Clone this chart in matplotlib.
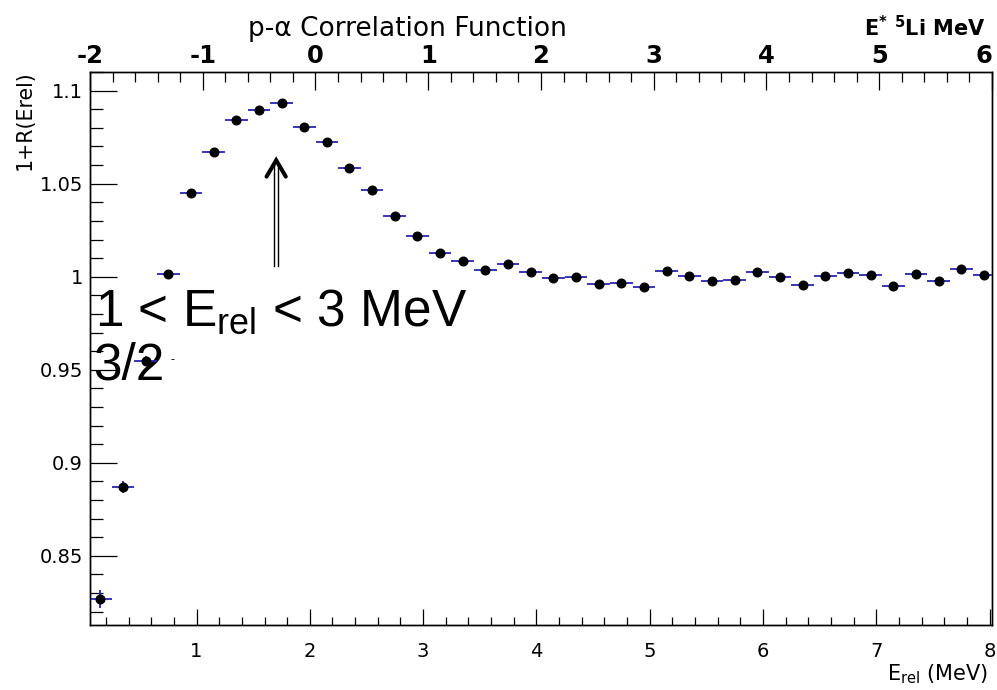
import matplotlib
matplotlib.use("Agg")
import matplotlib.pyplot as plt
from matplotlib.ticker import MultipleLocator, FormatStrFormatter
from matplotlib.lines import Line2D

# ---- data -------------------------------------------------------------
bin_center = [0.15, 0.35, 0.55, 0.75, 0.95, 1.15, 1.35, 1.55, 1.75, 1.95,
              2.15, 2.35, 2.55, 2.75, 2.95, 3.15, 3.35, 3.55, 3.75, 3.95,
              4.15, 4.35, 4.55, 4.75, 4.95, 5.15, 5.35, 5.55, 5.75, 5.95,
              6.15, 6.35, 6.55, 6.75, 6.95, 7.15, 7.35, 7.55, 7.75, 7.95]
bin_halfwidth = 0.1
ratio = [0.8268, 0.8868, 0.9549, 1.0012, 1.0450, 1.0671, 1.0842, 1.0896, 1.0934, 1.0807,
         1.0726, 1.0587, 1.0467, 1.0329, 1.0217, 1.0130, 1.0084, 1.0034, 1.0066, 1.0027,
         0.9995, 0.9998, 0.9962, 0.9964, 0.9946, 1.0030, 1.0002, 0.9975, 0.9985, 1.0027,
         1.0000, 0.9955, 1.0003, 1.0022, 1.0011, 0.9949, 1.0012, 0.9976, 1.0041, 1.0011]
ratio_err = [0.0050, 0.0033, 0.0025, 0.0020, 0.0018, 0.0017, 0.0016, 0.0016, 0.0016, 0.0016,
             0.0016, 0.0015, 0.0015, 0.0015, 0.0015, 0.0015, 0.0015, 0.0015, 0.0015, 0.0015,
             0.0015, 0.0015, 0.0015, 0.0015, 0.0015, 0.0015, 0.0015, 0.0015, 0.0015, 0.0015,
             0.0015, 0.0015, 0.0015, 0.0015, 0.0015, 0.0015, 0.0015, 0.0015, 0.0015, 0.0015]

erel_range = (0.06, 8.02)
estar_range = (-2, 6)
estar_ticks = [-2, -1, 0, 1, 2, 3, 4, 5, 6]
estar_ticklabels = ["-2", "-1", "0", "1", "2", "3", "4", "5", "6"]
ratio_range = (0.8128, 1.1102)

window_label = r"1 < E$_{\mathregular{rel}}$ < 3 MeV"
spin_label = "3/2"
arrow_x = 1.703
arrow_tail = 1.0056
arrow_tip = 1.0626

# ---- figure -------------------------------------------------------------
plt.rcParams["font.family"] = ["DejaVu Sans"]
plt.rcParams["axes.unicode_minus"] = False
plt.rcParams["mathtext.default"] = "regular"

fig = plt.figure(figsize=(9.97, 6.90), dpi=100)
ax = fig.add_axes([90 / 997, 1 - 625 / 690, (992 - 90) / 997, (625 - 71.7) / 690])

ax.errorbar(bin_center, ratio, xerr=bin_halfwidth, yerr=ratio_err, fmt="o",
            color="black", markersize=6.2, ecolor="#2626b0", elinewidth=1.3,
            capsize=0, zorder=3)

ax.set_xlim(*erel_range)
ax.set_ylim(*ratio_range)

for s in ax.spines.values():
    s.set_linewidth(1.0)

ax.xaxis.set_major_locator(MultipleLocator(1))
ax.xaxis.set_minor_locator(MultipleLocator(0.2))
ax.yaxis.set_major_locator(MultipleLocator(0.05))
ax.yaxis.set_minor_locator(MultipleLocator(0.01))
ax.yaxis.set_major_formatter(FormatStrFormatter("%g"))
ax.xaxis.set_major_formatter(FormatStrFormatter("%g"))

ax.tick_params(axis="x", which="both", direction="in", top=False, bottom=True,
               labelsize=14, pad=12, width=0.9)
ax.tick_params(axis="x", which="major", length=11.5)
ax.tick_params(axis="x", which="minor", length=5.8)
ax.tick_params(axis="y", which="both", direction="in", left=True, right=False,
               labelsize=14, pad=5, width=0.9)
ax.tick_params(axis="y", which="major", length=19.4)
ax.tick_params(axis="y", which="minor", length=9.4)

# excitation-energy scale on top
ax2 = ax.twiny()
ax2.set_xlim(*estar_range)
ax2.set_xticks(estar_ticks)
top_labels = ax2.set_xticklabels(estar_ticklabels, fontweight="bold")
top_labels[-1].set_horizontalalignment("right")
ax2.xaxis.set_minor_locator(MultipleLocator(0.2))
ax2.tick_params(axis="x", which="both", direction="in", top=True, bottom=False,
                labeltop=True, labelbottom=False, labelsize=17.5, pad=2.5, width=0.9)
ax2.tick_params(axis="x", which="major", length=13)
ax2.tick_params(axis="x", which="minor", length=7.2)
for s in ax2.spines.values():
    s.set_linewidth(1.0)

# window annotation
ax.text(0.104, 0.9738, window_label, fontsize=37, family="Liberation Sans",
        ha="left", va="baseline", zorder=2)
t32 = ax.text(0.09, 0.9446, spin_label, fontsize=37, family="Liberation Sans",
              ha="left", va="baseline", zorder=2)
ax.annotate("-", xy=(1.0, 0.62), xycoords=t32, xytext=(4, 0),
            textcoords="offset points", fontsize=9, family="Liberation Sans",
            ha="left", va="center")

# double-shafted arrow pointing at the peak
shaft_gap = 0.0176
for dx in (-shaft_gap, shaft_gap):
    ax.add_line(Line2D([arrow_x + dx, arrow_x + dx], [arrow_tail, arrow_tip - 0.002],
                       color="black", lw=1.0, zorder=2))
ax.add_line(Line2D([arrow_x - 0.085, arrow_x, arrow_x + 0.085],
                   [arrow_tip - 0.0088, arrow_tip, arrow_tip - 0.0088],
                   color="black", lw=2.9, solid_capstyle="round",
                   solid_joinstyle="miter", zorder=2))

# titles and axis labels
fig.text(407 / 997, 1 - 36 / 690, "p-\u03b1 Correlation Function",
         fontsize=19, ha="center", va="baseline")
fig.text(986 / 997, 1 - 36 / 690, r"E$^{*}$ $^{5}$Li MeV", fontsize=15,
         fontweight="bold", ha="right", va="baseline")
fig.text(25 / 997, 1 - 70 / 690, "1+R(Erel)", fontsize=14.8, rotation=90,
         ha="center", va="top")
fig.text(988 / 997, 1 - 680 / 690, r"E$_{rel}$ (MeV)", fontsize=15,
         ha="right", va="baseline")

fig.savefig("out.png", dpi=100, facecolor="white")
